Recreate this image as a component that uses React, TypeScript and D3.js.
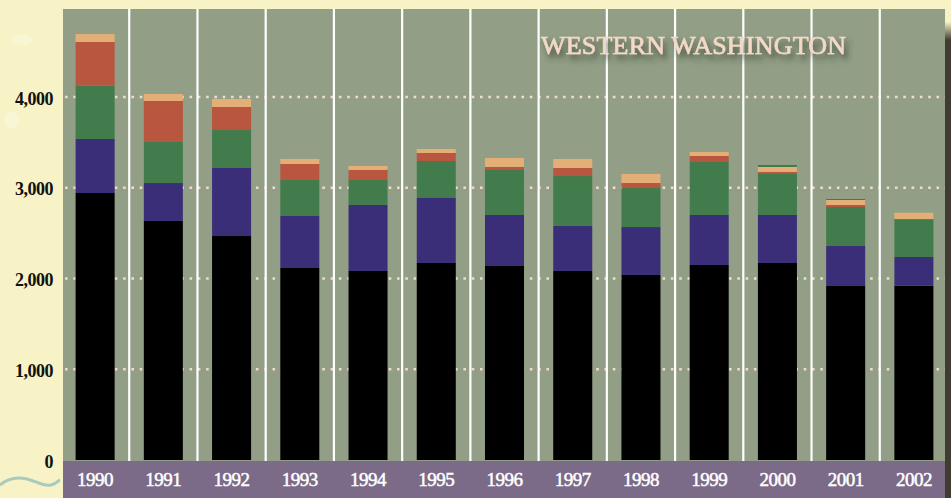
import React from "react";
import * as d3 from "d3";

const years = ["1990","1991","1992","1993","1994","1995","1996","1997","1998","1999","2000","2001","2002"];
const seriesBlack = [2942, 2634, 2468, 2116, 2083, 2171, 2138, 2083, 2039, 2149, 2171, 1917, 1921];
const seriesPurple = [595, 418, 750, 573, 727, 716, 562, 496, 528, 551, 529, 441, 316];
const seriesGreen = [587, 460, 418, 396, 275, 408, 496, 550, 430, 584, 452, 430, 408];
const seriesRed = [482, 444, 254, 177, 111, 88, 33, 89, 55, 66, 22, 22, 11];
const seriesTan = [88, 77, 88, 55, 44, 44, 99, 99, 100, 44, 55, 55, 69];
const seriesTop = [0, 0, 0, 0, 0, 0, 0, 0, 0, 0, 22, 11, 0];
const yTicks = [0, 1000, 2000, 3000, 4000];
const title = "WESTERN WASHINGTON";

const keys = ["black", "purple", "green", "red", "tan", "top"];
const colors: Record<string, string> = {
  black: "#000000",
  purple: "#3a2e78",
  green: "#427c4c",
  red: "#b8563f",
  tan: "#e4ae77",
  top: "#427c4c",
};

export default function App() {
  const W = 951, H = 498;
  const plotL = 63, plotR = 945, plotT = 9, bandT = 461;
  const x = d3.scaleBand<string>().domain(years).range([61, 948]).paddingInner(0.428).paddingOuter(0.214);
  const y = d3.scaleLinear().domain([0, 4000]).range([460, 97]);
  const rows = years.map((yr, i) => ({
    year: yr,
    black: seriesBlack[i],
    purple: seriesPurple[i],
    green: seriesGreen[i],
    red: seriesRed[i],
    tan: seriesTan[i],
    top: seriesTop[i],
  }));
  const stacked = d3.stack<any>().keys(keys)(rows);
  const step = x.step();
  const gap = (step - x.bandwidth()) / 2;
  const seps = years.slice(1).map((yr) => (x(yr) as number) - gap);
  const fmt = d3.format(",");

  return (
    <svg width={W} height={H} style={{ position: "fixed", left: 0, top: 0 }} fontFamily="'Liberation Serif', serif">
      <defs>
        <filter id="tshadow" x="-10%" y="-50%" width="130%" height="250%">
          <feDropShadow dx="3" dy="5" stdDeviation="3" floodColor="#2f3328" floodOpacity="0.75" />
        </filter>
        <linearGradient id="strip" x1="0" y1="0" x2="0" y2="1">
          <stop offset="0" stopColor="#f6f2c6" />
          <stop offset="1" stopColor="#403c31" />
        </linearGradient>
      </defs>
      <rect x={0} y={0} width={W} height={H} fill="#f7f3c6" />
      <ellipse cx={22} cy={40} rx={10} ry={5} fill="#f9f6d6" />
      <ellipse cx={12} cy={120} rx={7} ry={9} fill="#f9f6d6" />
      <rect x={plotR} y={22} width={W - plotR} height={18} fill="url(#strip)" />
      <rect x={plotR} y={40} width={W - plotR} height={H - 40} fill="#403c31" />
      <rect x={plotL} y={plotT} width={plotR - plotL} height={bandT - plotT} fill="#929f86" />
      {yTicks.filter((t) => t > 0).map((t) => (
        <line key={t} x1={plotL + 2} x2={plotR} y1={y(t)} y2={y(t)} stroke="#efdccd" strokeWidth={2.6} strokeDasharray="2.6 5.7" />
      ))}
      {seps.map((sx, i) => (
        <line key={i} x1={sx} x2={sx} y1={plotT} y2={bandT} stroke="#ffffff" strokeWidth={2.2} />
      ))}
      {stacked.map((s) => (
        <g key={s.key} fill={colors[s.key]}>
          {s.map((d, i) => (
            d[1] - d[0] > 0 ? (
              <rect key={i} x={x(years[i])} y={y(d[1])} width={x.bandwidth()} height={y(d[0]) - y(d[1])} />
            ) : null
          ))}
        </g>
      ))}
      <text x={541} y={54} fontSize={26} fill="#f3d9c6" stroke="#f3d9c6" strokeWidth={0.6} filter="url(#tshadow)" textLength={305} lengthAdjust="spacing">{title}</text>
      <rect x={plotL} y={bandT} width={plotR - plotL} height={H - bandT} fill="#7b6a88" />
      {years.map((yr) => (
        <text key={yr} x={(x(yr) as number) + x.bandwidth() / 2} y={486} fontSize={19} fill="#ffffff" stroke="#ffffff" strokeWidth={0.5} textAnchor="middle" letterSpacing={-0.5}>{yr}</text>
      ))}
      {yTicks.map((t) => (
        <text key={t} x={53} y={y(t) + 7.5} fontSize={18} fontWeight="bold" fill="#111" textAnchor="end" letterSpacing={-0.5}>{fmt(t)}</text>
      ))}
      <path d="M0,485 C8,478 18,477 27,479 S44,487 51,485 S57,481 60,480" fill="none" stroke="#a9cbbb" strokeWidth={3} />
    </svg>
  );
}
